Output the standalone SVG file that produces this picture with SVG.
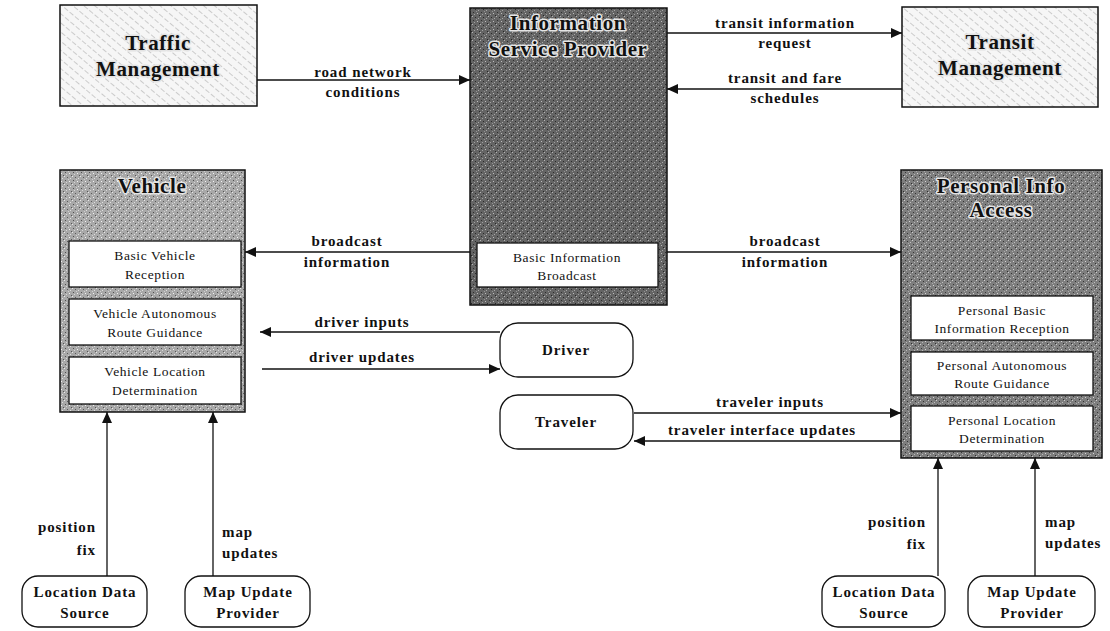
<svg xmlns="http://www.w3.org/2000/svg" width="1110" height="631" viewBox="0 0 1110 631">
<style>
.box{stroke:#111;stroke-width:1.5}
.inner{fill:#fff;stroke:#111;stroke-width:1.3}
.term{fill:#fff;stroke:#111;stroke-width:1.3}
.title{font-family:"Liberation Serif","DejaVu Serif",serif;font-weight:bold;font-size:21px;letter-spacing:0.6px;text-anchor:middle;fill:#111;paint-order:stroke;stroke:#e4e4e4;stroke-width:3px;stroke-linejoin:round}
.lbl{font-family:"Liberation Serif","DejaVu Serif",serif;font-weight:bold;font-size:15px;letter-spacing:0.9px;fill:#111;text-anchor:middle}
.small{font-family:"Liberation Serif","DejaVu Serif",serif;font-size:13.5px;letter-spacing:0.6px;fill:#111;text-anchor:middle}
.conn{stroke:#111;stroke-width:1.3;fill:none}
.st{text-anchor:start}
.en{text-anchor:end}
</style>
<defs>
<pattern id="hatch" width="7" height="7" patternUnits="userSpaceOnUse" patternTransform="rotate(-50)">
<rect width="7" height="7" fill="#f6f6f6"/>
<line x1="0" y1="0" x2="0" y2="7" stroke="#8a8a8a" stroke-width="0.8" stroke-dasharray="3 2"/>
</pattern>
<pattern id="stip" width="8" height="8" patternUnits="userSpaceOnUse">
<rect width="8" height="8" fill="#a8a8a8"/>
<rect x="0" y="0" width="1" height="1" fill="#e8e8e8"/>
<rect x="3" y="1" width="1" height="1" fill="#5a5a5a"/>
<rect x="6" y="2" width="1" height="1" fill="#e0e0e0"/>
<rect x="1" y="4" width="1" height="1" fill="#505050"/>
<rect x="5" y="5" width="1" height="1" fill="#f2f2f2"/>
<rect x="2" y="6" width="1" height="1" fill="#d6d6d6"/>
<rect x="7" y="7" width="1" height="1" fill="#555"/>
<rect x="4" y="3" width="1" height="1" fill="#d0d0d0"/>
</pattern>
<pattern id="stipmid" width="8" height="8" patternUnits="userSpaceOnUse">
<rect width="8" height="8" fill="#7e7e7e"/>
<rect x="0" y="0" width="1" height="1" fill="#cfcfcf"/>
<rect x="3" y="1" width="1" height="1" fill="#333"/>
<rect x="6" y="2" width="1" height="1" fill="#c0c0c0"/>
<rect x="1" y="4" width="1" height="1" fill="#383838"/>
<rect x="5" y="5" width="1" height="1" fill="#d4d4d4"/>
<rect x="2" y="6" width="1" height="1" fill="#b8b8b8"/>
<rect x="7" y="7" width="1" height="1" fill="#2e2e2e"/>
<rect x="4" y="3" width="1" height="1" fill="#acacac"/>
</pattern>
<pattern id="stipdark" width="8" height="8" patternUnits="userSpaceOnUse">
<rect width="8" height="8" fill="#646464"/>
<rect x="0" y="0" width="1" height="1" fill="#b5b5b5"/>
<rect x="3" y="1" width="1" height="1" fill="#2a2a2a"/>
<rect x="6" y="2" width="1" height="1" fill="#a8a8a8"/>
<rect x="1" y="4" width="1" height="1" fill="#2e2e2e"/>
<rect x="5" y="5" width="1" height="1" fill="#bcbcbc"/>
<rect x="2" y="6" width="1" height="1" fill="#a0a0a0"/>
<rect x="7" y="7" width="1" height="1" fill="#262626"/>
<rect x="4" y="3" width="1" height="1" fill="#949494"/>
</pattern>
<marker id="arr" markerUnits="userSpaceOnUse" markerWidth="12" markerHeight="10" refX="11" refY="5" orient="auto">
<path d="M0,0 L11,5 L0,10 Z" fill="#111"/>
</marker>
</defs>

<g id="connectors">
<line class="conn" x1="257" y1="80" x2="470" y2="80" marker-end="url(#arr)"/>
<line class="conn" x1="667" y1="33" x2="902" y2="33" marker-end="url(#arr)"/>
<line class="conn" x1="902" y1="89" x2="667" y2="89" marker-end="url(#arr)"/>
<line class="conn" x1="470" y1="252" x2="245" y2="252" marker-end="url(#arr)"/>
<line class="conn" x1="667" y1="252" x2="901" y2="252" marker-end="url(#arr)"/>
<line class="conn" x1="500" y1="332" x2="260" y2="332" marker-end="url(#arr)"/>
<line class="conn" x1="262" y1="369" x2="500" y2="369" marker-end="url(#arr)"/>
<line class="conn" x1="634" y1="413" x2="901" y2="413" marker-end="url(#arr)"/>
<line class="conn" x1="901" y1="441" x2="634" y2="441" marker-end="url(#arr)"/>
<line class="conn" x1="107" y1="576" x2="107" y2="412" marker-end="url(#arr)"/>
<line class="conn" x1="213" y1="576" x2="213" y2="412" marker-end="url(#arr)"/>
<line class="conn" x1="938" y1="576" x2="938" y2="458" marker-end="url(#arr)"/>
<line class="conn" x1="1035" y1="576" x2="1035" y2="458" marker-end="url(#arr)"/>
<text class="lbl" x="363" y="77">road network</text>
<text class="lbl" x="363" y="97">conditions</text>
<text class="lbl" x="785" y="28">transit information</text>
<text class="lbl" x="785" y="48">request</text>
<text class="lbl" x="785" y="83">transit and fare</text>
<text class="lbl" x="785" y="103">schedules</text>
<text class="lbl" x="347" y="246">broadcast</text>
<text class="lbl" x="347" y="267">information</text>
<text class="lbl" x="785" y="246">broadcast</text>
<text class="lbl" x="785" y="267">information</text>
<text class="lbl" x="362" y="327">driver inputs</text>
<text class="lbl" x="362" y="362">driver updates</text>
<text class="lbl" x="770" y="407">traveler inputs</text>
<text class="lbl" x="762" y="435">traveler interface updates</text>
<text class="lbl en" x="96" y="532">position</text>
<text class="lbl en" x="96" y="555">fix</text>
<text class="lbl st" x="222" y="537">map</text>
<text class="lbl st" x="222" y="558">updates</text>
<text class="lbl en" x="926" y="527">position</text>
<text class="lbl en" x="926" y="549">fix</text>
<text class="lbl st" x="1045" y="527">map</text>
<text class="lbl st" x="1045" y="548">updates</text>
</g>

<g id="traffic-management">
<rect class="box" x="60" y="5" width="197" height="101" fill="url(#hatch)"/>
<text class="title" x="158" y="50">Traffic</text>
<text class="title" x="158" y="76">Management</text>
</g>

<g id="information-service-provider">
<rect class="box" x="470" y="8" width="197" height="297" fill="url(#stipdark)"/>
<text class="title" x="568" y="30">Information</text>
<text class="title" x="568" y="56">Service Provider</text>
<rect class="inner" x="477" y="243" width="181" height="44"/>
<text class="small" x="567" y="262">Basic Information</text>
<text class="small" x="567" y="280">Broadcast</text>
</g>

<g id="transit-management">
<rect class="box" x="902" y="7" width="196" height="100" fill="url(#hatch)"/>
<text class="title" x="1000" y="49">Transit</text>
<text class="title" x="1000" y="75">Management</text>
</g>

<g id="vehicle">
<rect class="box" x="60" y="170" width="185" height="242" fill="url(#stip)"/>
<text class="title" x="152" y="193">Vehicle</text>
<rect class="inner" x="69" y="241" width="172" height="46"/>
<text class="small" x="155" y="260">Basic Vehicle</text>
<text class="small" x="155" y="279">Reception</text>
<rect class="inner" x="69" y="299" width="172" height="46"/>
<text class="small" x="155" y="318">Vehicle Autonomous</text>
<text class="small" x="155" y="337">Route Guidance</text>
<rect class="inner" x="69" y="357" width="172" height="47"/>
<text class="small" x="155" y="376">Vehicle Location</text>
<text class="small" x="155" y="395">Determination</text>
</g>

<g id="personal-info-access">
<rect class="box" x="901" y="170" width="201" height="288" fill="url(#stipmid)"/>
<text class="title" x="1001" y="193">Personal Info</text>
<text class="title" x="1001" y="217">Access</text>
<rect class="inner" x="911" y="296" width="182" height="44"/>
<text class="small" x="1002" y="315">Personal Basic</text>
<text class="small" x="1002" y="333">Information Reception</text>
<rect class="inner" x="911" y="352" width="182" height="43"/>
<text class="small" x="1002" y="370">Personal Autonomous</text>
<text class="small" x="1002" y="388">Route Guidance</text>
<rect class="inner" x="911" y="406" width="182" height="45"/>
<text class="small" x="1002" y="425">Personal Location</text>
<text class="small" x="1002" y="443">Determination</text>
</g>

<g id="driver">
<rect class="term" x="500" y="323" width="133" height="54" rx="18"/>
<text class="lbl" x="566" y="355">Driver</text>
</g>

<g id="traveler">
<rect class="term" x="500" y="395" width="133" height="54" rx="18"/>
<text class="lbl" x="566" y="427">Traveler</text>
</g>

<g id="location-data-source-left">
<rect class="term" x="22" y="576" width="125" height="51" rx="16"/>
<text class="lbl" x="85" y="597">Location Data</text>
<text class="lbl" x="85" y="618">Source</text>
</g>

<g id="map-update-provider-left">
<rect class="term" x="185" y="576" width="125" height="51" rx="16"/>
<text class="lbl" x="248" y="597">Map Update</text>
<text class="lbl" x="248" y="618">Provider</text>
</g>

<g id="location-data-source-right">
<rect class="term" x="822" y="576" width="123" height="51" rx="16"/>
<text class="lbl" x="884" y="597">Location Data</text>
<text class="lbl" x="884" y="618">Source</text>
</g>

<g id="map-update-provider-right">
<rect class="term" x="968" y="576" width="127" height="51" rx="16"/>
<text class="lbl" x="1032" y="597">Map Update</text>
<text class="lbl" x="1032" y="618">Provider</text>
</g>
</svg>
